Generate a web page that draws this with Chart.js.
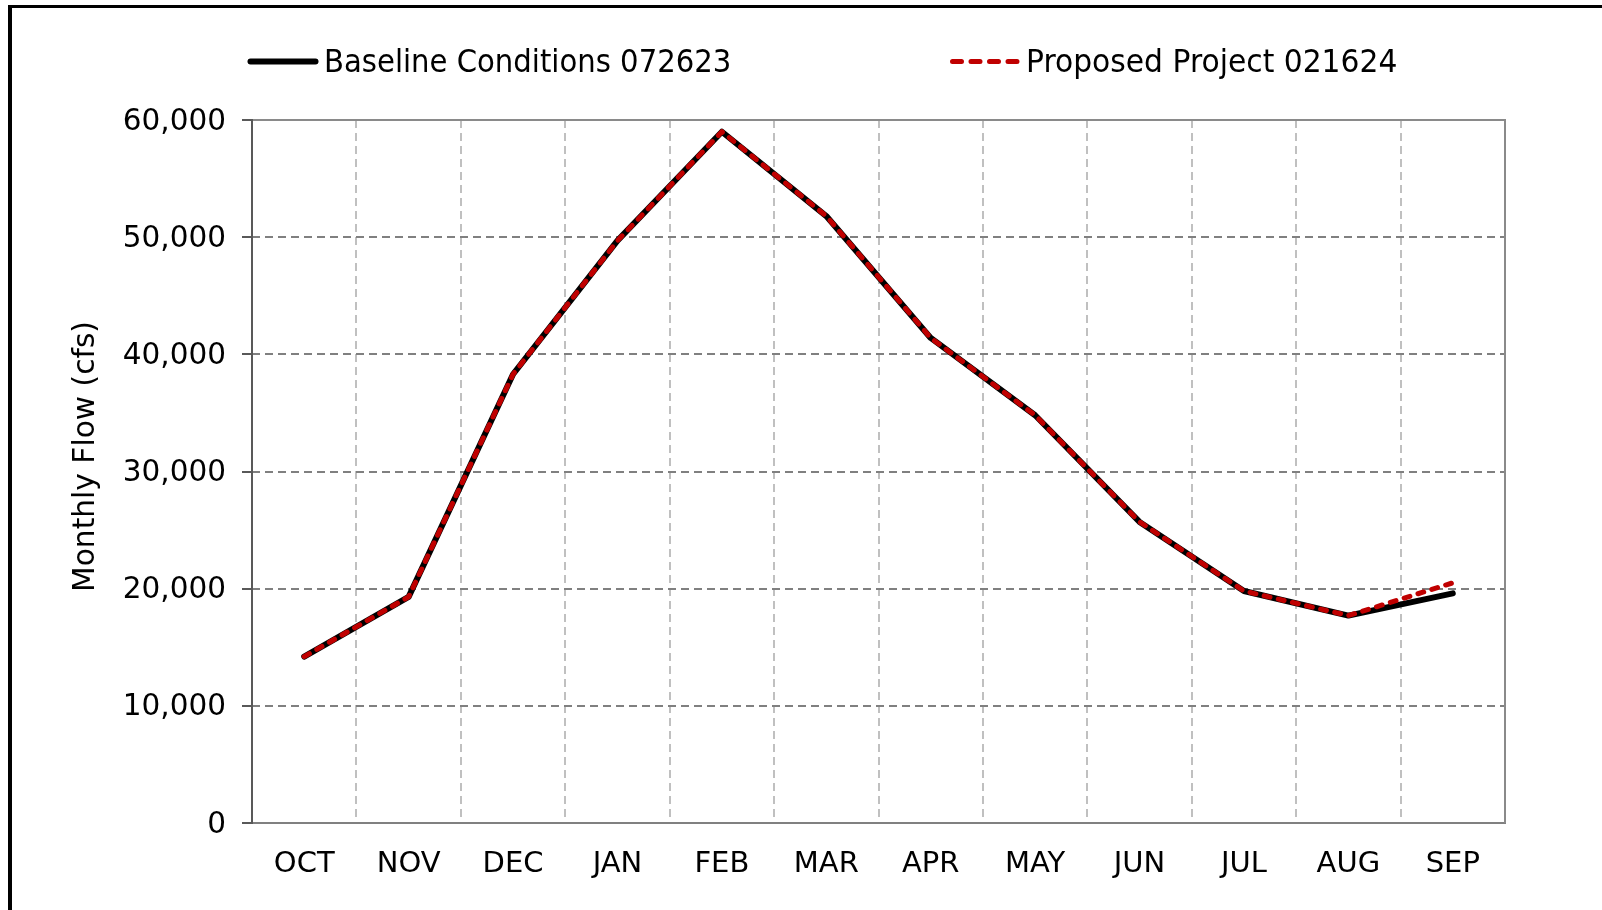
<!DOCTYPE html>
<html>
<head>
<meta charset="utf-8">
<script src="https://cdn.jsdelivr.net/npm/chart.js@4.4.1/dist/chart.umd.min.js"></script>
<style>
  html, body { margin: 0; padding: 0; background: #ffffff; width: 1602px; height: 910px; overflow: hidden; }
  #frame { position: absolute; left: 8px; top: 5px; width: 1640px; height: 960px; box-sizing: border-box;
           border-left: 4px solid #000; border-top: 3px solid #000; }
  #wrap { position: absolute; left: 0; top: 0; width: 1602px; height: 910px; }
</style>
</head>
<body>
<div id="frame"></div>
<div id="wrap"><canvas id="chart"></canvas></div>
<script>
// ---- data ----
const MONTHS = ['OCT', 'NOV', 'DEC', 'JAN', 'FEB', 'MAR', 'APR', 'MAY', 'JUN', 'JUL', 'AUG', 'SEP'];
const BASELINE = [14200, 19300, 38300, 49700, 59000, 51800, 41400, 34800, 25700, 19800, 17700, 19600];
const PROPOSED = [14200, 19300, 38300, 49700, 59000, 51800, 41400, 34800, 25700, 19800, 17700, 20500];
const SERIES_NAMES = ['Baseline Conditions 072623', 'Proposed Project 021624'];
const Y_MIN = 0;
const Y_MAX = 60000;
const Y_STEP = 10000;
const Y_TITLE = 'Monthly Flow (cfs)';

const FONT = '"DejaVu Sans", Verdana, sans-serif';

// plot-area frame (all four edges, like the spreadsheet plot area)
const plotFrame = {
  id: 'plotFrame',
  afterLayout(chart, args, opts) {
    // the spreadsheet places the axis title slightly above the middle of the axis
    const y = chart.scales.y;
    y.top -= opts.titleShift;
    y.bottom -= opts.titleShift;
  },
  beforeDatasetsDraw(chart) {
    const { ctx, chartArea: a } = chart;
    ctx.save();
    ctx.lineWidth = 2;
    ctx.strokeStyle = '#8a8a8a';
    ctx.beginPath();
    ctx.moveTo(a.left, a.top);
    ctx.lineTo(a.right, a.top);
    ctx.lineTo(a.right, a.bottom);
    ctx.stroke();
    ctx.strokeStyle = '#595959';
    ctx.beginPath();
    ctx.moveTo(a.left, a.top - 1);
    ctx.lineTo(a.left, a.bottom + 1);
    ctx.stroke();
    ctx.restore();
  }
};

// legend drawn from the chart's datasets
const lineLegend = {
  id: 'lineLegend',
  afterDraw(chart, args, opts) {
    const ctx = chart.ctx;
    chart.data.datasets.forEach((ds, i) => {
      const x = opts.x[i], y = opts.y;
      ctx.save();
      ctx.strokeStyle = ds.borderColor;
      ctx.lineWidth = opts.widths[i];
      ctx.lineCap = 'round';
      ctx.setLineDash(ds.borderDash && ds.borderDash.length ? opts.dash : []);
      ctx.beginPath();
      ctx.moveTo(x + 2.5, y);
      ctx.lineTo(x + opts.sample - 2.5, y);
      ctx.stroke();
      ctx.setLineDash([]);
      ctx.fillStyle = '#000';
      ctx.font = opts.font;
      ctx.textBaseline = 'middle';
      ctx.translate(x + opts.sample + opts.gap, y + opts.textDy);
      ctx.scale(opts.squeeze[i], 1);
      ctx.fillText(ds.label, 0, 0);
      ctx.restore();
    });
  }
};

new Chart(document.getElementById('chart'), {
  type: 'line',
  data: {
    labels: MONTHS,
    datasets: [
      {
        label: SERIES_NAMES[0],
        data: BASELINE,
        borderColor: '#000000',
        backgroundColor: '#000000',
        borderWidth: 6,
        pointRadius: 0,
        tension: 0,
        borderJoinStyle: 'round',
        borderCapStyle: 'round',
        order: 2
      },
      {
        label: SERIES_NAMES[1],
        data: PROPOSED,
        borderColor: '#c00000',
        backgroundColor: '#c00000',
        borderWidth: 5,
        borderDash: [6, 8.5],
        borderCapStyle: 'round',
        borderJoinStyle: 'round',
        pointRadius: 0,
        tension: 0,
        order: 1
      }
    ]
  },
  options: {
    responsive: true,
    maintainAspectRatio: false,
    animation: false,
    devicePixelRatio: 1,
    layout: { padding: { left: 0, right: 97, top: 120, bottom: 0 } },
    plugins: {
      legend: { display: false },
      tooltip: { enabled: false },
      plotFrame: { titleShift: 15 },
      lineLegend: {
        x: [248, 950],
        y: 61.5,
        textDy: 2.5,
        sample: 70,
        gap: 6,
        widths: [6, 5],
        dash: [9, 9.5],
        font: '32px ' + FONT,
        squeeze: [0.91, 0.93]
      }
    },
    scales: {
      x: {
        type: 'category',
        offset: true,
        grid: {
          offset: true,
          color: c => (c.index === undefined || c.index === 0) ? 'rgba(0,0,0,0)' : '#c0c0c0',
          lineWidth: 2,
          drawTicks: false
        },
        border: { display: true, color: '#808080', width: 2, dash: [8, 5] },
        ticks: {
          color: '#000',
          font: { family: FONT, size: 29 },
          padding: 24,
          maxRotation: 0,
          autoSkip: false
        },
        afterFit: s => { s.height = 87; }
      },
      y: {
        min: Y_MIN,
        max: Y_MAX,
        grid: {
          color: c => (c.tick && (c.tick.value === Y_MIN || c.tick.value === Y_MAX)) ? 'rgba(0,0,0,0)' : '#808080',
          lineWidth: 2,
          drawTicks: true,
          tickLength: 10,
          tickColor: '#595959',
          tickWidth: 2,
          tickBorderDash: []
        },
        border: { display: false, dash: [8, 5] },
        ticks: {
          stepSize: Y_STEP,
          color: '#000',
          font: { family: FONT, size: 29.5 },
          padding: 16,
          labelOffset: 2,
          callback: v => Number(v).toLocaleString('en-US')
        },
        title: {
          display: true,
          text: Y_TITLE,
          color: '#000',
          font: { family: FONT, size: 29.7 },
          padding: { top: 68, bottom: 0 }
        },
        afterFit: s => { s.width = 252; }
      }
    }
  },
  plugins: [plotFrame, lineLegend]
});
</script>
</body>
</html>
